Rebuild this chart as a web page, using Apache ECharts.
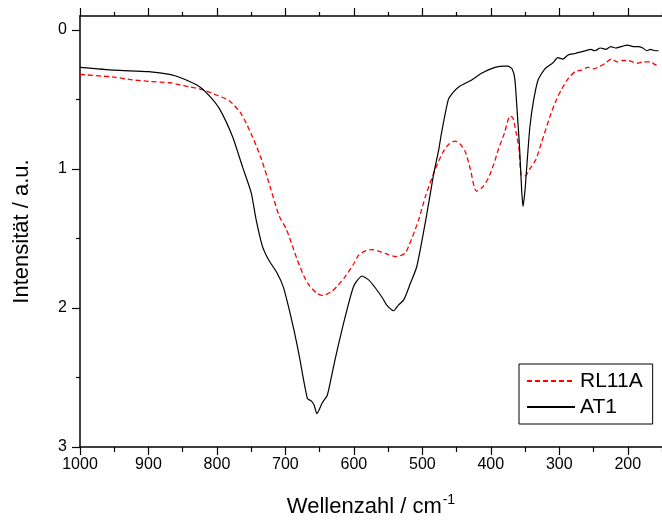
<!DOCTYPE html>
<html>
<head>
<meta charset="utf-8">
<script src="https://cdn.jsdelivr.net/npm/echarts@6/dist/echarts.min.js"></script>
<style>
html,body{margin:0;padding:0;background:#fff;}
#chart{width:662px;height:523px;}
</style>
</head>
<body>
<div id="chart"></div>
<script>
// ---- data ----
const seriesNames = ['RL11A', 'AT1'];

const rl11aWavenumber = [1000,950,923,900,869,859,840,821,800,782,765,748,735,721,709,699,690,683,673,665,655,646,632,622,612,600,593,583,574,565,553,539,530,524,510,505,495,481,470,461,452,445,437,430,421,412,404,396,389,380,372,368,363,359,356,353,350,343,334,326,312,304,297,287,277,268,258,250,240,233,224,215,208,200,193,186,178,167,160,155];
const rl11aIntensity  = [0.32,0.34,0.36,0.37,0.38,0.39,0.41,0.43,0.47,0.51,0.60,0.77,0.93,1.15,1.34,1.43,1.55,1.65,1.77,1.84,1.89,1.91,1.88,1.83,1.77,1.68,1.62,1.59,1.58,1.59,1.61,1.63,1.62,1.60,1.43,1.36,1.19,1.00,0.88,0.82,0.80,0.82,0.88,1.00,1.16,1.13,1.07,0.97,0.86,0.74,0.62,0.63,0.74,0.85,1.04,1.05,1.05,1.00,0.93,0.81,0.60,0.50,0.43,0.35,0.30,0.29,0.27,0.28,0.26,0.24,0.21,0.23,0.22,0.22,0.23,0.24,0.23,0.23,0.25,0.26];

const at1Wavenumber = [1000,950,900,869,850,825,810,796,777,763,750,743,734,725,712,703,695,687,680,668,662,658,654,646,639,633,627,612,600,588,578,568,558,552,542,535,527,518,508,494,484,476,472,462,455,447,428,413,394,380,375,369,365,362,358,355,353,350,347,343,338,331,321,310,302,295,287,277,270,262,254,248,240,232,225,218,210,200,192,185,178,172,167,160,155];
const at1Intensity  = [0.27,0.29,0.30,0.32,0.35,0.41,0.48,0.57,0.77,0.98,1.17,1.36,1.55,1.65,1.75,1.85,2.00,2.17,2.34,2.65,2.67,2.70,2.76,2.68,2.63,2.50,2.36,2.05,1.84,1.77,1.80,1.86,1.93,1.98,2.02,1.98,1.94,1.83,1.70,1.34,1.05,0.86,0.74,0.50,0.45,0.41,0.36,0.31,0.27,0.26,0.26,0.28,0.35,0.55,0.85,1.15,1.27,1.15,0.95,0.70,0.52,0.36,0.28,0.24,0.20,0.21,0.18,0.17,0.16,0.15,0.14,0.15,0.13,0.14,0.12,0.13,0.12,0.11,0.12,0.12,0.13,0.15,0.14,0.15,0.15];

const xMajorTicks = [200,300,400,500,600,700,800,900,1000];
const xMinorTicks = [150,250,350,450,550,650,750,850,950];
const yMajorTicks = [0,1,2,3];
const yMinorTicks = [0.5,1.5,2.5];

const xTitle = 'Wellenzahl / cm';
const xTitleSup = '-1';
const yTitle = 'Intensität / a.u.';

// ---- chart ----
const zip = (xs, ys) => xs.map((x, i) => [x, ys[i]]);
const FONT = 'Liberation Sans, Arial, sans-serif';
const axisLineStyle = { color: '#000', width: 1.5 };
const plain = v => String(v);

function xAx(position, ticks, len, showLine, label, extra) {
  return Object.assign({
    type: 'value', position: position, min: 150, max: 1000, inverse: true,
    axisLine: { show: showLine, onZero: false, lineStyle: axisLineStyle },
    axisTick: { show: true, inside: false, length: len, customValues: ticks, lineStyle: { color: '#000', width: 1.2 } },
    axisLabel: label ? { show: true, customValues: ticks, formatter: plain, fontFamily: FONT, fontSize: 16, color: '#000', margin: 10 } : { show: false },
    splitLine: { show: false }
  }, extra || {});
}
function yAx(ticks, len, label, extra) {
  return Object.assign({
    type: 'value', position: 'left', min: -0.1, max: 3, inverse: true,
    axisLine: { show: label, onZero: false, lineStyle: axisLineStyle },
    axisTick: { show: true, inside: false, length: len, customValues: ticks, lineStyle: { color: '#000', width: 1.2 } },
    axisLabel: label ? { show: true, customValues: ticks, formatter: plain, fontFamily: FONT, fontSize: 16, color: '#000', margin: 13 } : { show: false },
    splitLine: { show: false }
  }, extra || {});
}

const chart = echarts.init(document.getElementById('chart'), null, { renderer: 'canvas' });
chart.setOption({
  animation: false,
  backgroundColor: '#fff',
  grid: { left: 80, top: 16, width: 586.5, height: 433, containLabel: false },
  legend: {
    data: seriesNames,
    orient: 'vertical',
    left: 519, top: 364,
    itemWidth: 48, itemHeight: 14, itemGap: 4,
    padding: [6, 10, 6, 7],
    borderColor: '#000', borderWidth: 1,
    itemStyle: { opacity: 0 },
    textStyle: { fontFamily: FONT, fontSize: 21, color: '#000', lineHeight: 22 }
  },
  xAxis: [
    xAx('bottom', xMajorTicks, 8, true, true, {
      name: '{a|' + xTitle + '}{b|' + xTitleSup + '}',
      nameLocation: 'middle', nameGap: 46,
      nameTextStyle: {
        rich: {
          a: { fontFamily: FONT, fontSize: 22, color: '#000' },
          b: { fontFamily: FONT, fontSize: 14, color: '#000', padding: [0, 0, 14, 1] }
        }
      }
    }),
    xAx('bottom', xMinorTicks, 5, false, false),
    xAx('top', xMajorTicks, 8, true, false),
    xAx('top', xMinorTicks, 4, false, false)
  ],
  yAxis: [
    yAx(yMajorTicks, 8, true, {
      name: yTitle, nameLocation: 'middle', nameGap: 47,
      nameTextStyle: { fontFamily: FONT, fontSize: 22, color: '#000' }
    }),
    yAx(yMinorTicks, 4, false)
  ],
  series: [
    {
      name: seriesNames[0], type: 'line', xAxisIndex: 0, yAxisIndex: 0,
      data: zip(rl11aWavenumber, rl11aIntensity),
      symbol: 'none', smooth: 0.25,
      lineStyle: { color: '#ff0000', width: 1.3, type: [5, 3] },
      itemStyle: { color: '#ff0000' }
    },
    {
      name: seriesNames[1], type: 'line', xAxisIndex: 0, yAxisIndex: 0,
      data: zip(at1Wavenumber, at1Intensity),
      symbol: 'none', smooth: 0.2,
      lineStyle: { color: '#000', width: 1.2, type: 'solid' },
      itemStyle: { color: '#000' }
    }
  ]
});
</script>
</body>
</html>
